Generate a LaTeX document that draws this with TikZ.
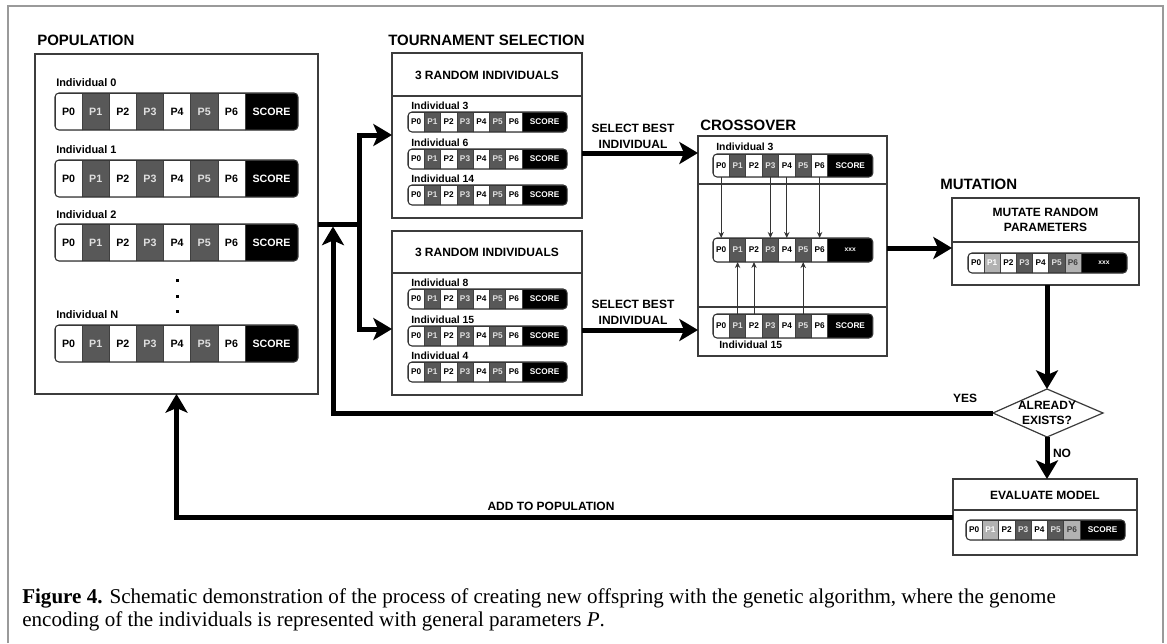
\documentclass[tikz,border=0pt]{standalone}
\usepackage{fontspec}
\setmainfont{Liberation Sans}
\newfontfamily\capfont{Liberation Serif}
\usetikzlibrary{arrows.meta,fit}

\definecolor{cdark}{HTML}{585858}
\definecolor{clight}{HTML}{B2B2B2}
\definecolor{framegray}{HTML}{9A9A9A}
\definecolor{edge}{HTML}{3C3C3C}

% fonts used inside the genome bars
\newcommand\gbig{\fontsize{8}{9}\selectfont\bfseries}
\newcommand\gsmall{\fontsize{6.2}{7}\selectfont\bfseries}

\tikzset{
  box/.style={draw=edge, line width=0.9pt, inner sep=0pt, outer sep=0pt},
  rule/.style={draw=edge, line width=0.9pt},
  ttl/.style={font=\fontsize{11.25}{13}\selectfont\bfseries, anchor=west, inner sep=0pt},
  hdr/.style={font=\fontsize{9}{11.5}\selectfont\bfseries, align=center, inner sep=0pt},
  lbl/.style={font=\fontsize{8.2}{9}\selectfont\bfseries, anchor=west, inner sep=0pt},
  slbl/.style={font=\fontsize{7.8}{9}\selectfont\bfseries, anchor=west, inner sep=0pt},
  cell/.style={inner sep=0pt, outer sep=0pt, draw=black!75, line width=0.5pt},
  gw/.style={fill=white, text=black},
  gd/.style={fill=cdark, text=black!12},
  gl/.style={fill=clight, text=white},
  gm/.style={fill=clight, text=black!75},
  barline/.style={draw=black!80, line width=0.8pt},
  flow/.style={line width=3.75pt, -{Stealth[length=14pt, width=16.5pt, inset=3.5pt]}},
  flowline/.style={line width=3.75pt},
  xarrow/.style={draw=black!80, line width=0.75pt, -{Stealth[length=4.5pt, width=4pt]}},
}

% #1 name, #2 left, #3 top, #4 cell width, #5 score width, #6 height,
% #7 cell kinds, #8 last label, #9 font
\newcommand\genome[9]{%
  \begin{scope}
    \clip[rounded corners=3pt] (#2,#3) rectangle ++({7*#4+#5},#6);
    \foreach \k [count=\i from 0] in {#7}{
      \node[cell, g\k, font=#9, minimum width={#4*0.75pt}, minimum height={#6*0.75pt}]
        (#1-\i) at ({#2+(\i+0.5)*#4},{#3+#6/2}) {P\i};
    }
    \node[cell, fill=black, text=white, font=#9, minimum width={#5*0.75pt}, minimum height={#6*0.75pt}]
      (#1-7) at ({#2+7*#4+#5/2},{#3+#6/2}) {#8};
  \end{scope}
  \draw[barline, rounded corners=3pt] (#2,#3) rectangle ++({7*#4+#5},#6);
}

\begin{document}
\begin{tikzpicture}[x=0.75pt, y=-0.75pt]
\fill[white] (0,0) rectangle (1167,643);
\useasboundingbox (0,0) rectangle (1167,643);
\draw[framegray, line width=1.2pt] (8,643) -- (8,6) -- (1163,6) -- (1163,643);

% ---------------- population ----------------
\node[ttl] (popT) at (37,40) {POPULATION};
\node[box, fit={(35,54) (318,394)}] (pop) {};
\node[lbl] (pl0) at (56,83) {Individual 0};
\genome{p0}{55}{93}{27.14}{53}{37}{w,d,w,d,w,d,w}{SCORE}{\gbig}
\node[lbl] (pl1) at (56,150) {Individual 1};
\genome{p1}{55}{160}{27.14}{53}{37}{w,d,w,d,w,d,w}{SCORE}{\gbig}
\node[lbl] (pl2) at (56,215) {Individual 2};
\genome{p2}{55}{224}{27.14}{53}{37}{w,d,w,d,w,d,w}{SCORE}{\gbig}
\fill (175.5,278.5) rectangle ++(3,3);
\fill (175.5,294.5) rectangle ++(3,3);
\fill (175.5,309.5) rectangle ++(3,3);
\node[lbl] (plN) at (56,315) {Individual N};
\genome{pN}{55}{325}{27.14}{53}{37}{w,d,w,d,w,d,w}{SCORE}{\gbig}

% ---------------- tournament selection ----------------
\node[ttl] (tsT) at (388,40) {TOURNAMENT SELECTION};
\node[box, fit={(392,53) (582,218)}] (ts1) {};
\draw[rule] (392,96) -- (582,96);
\node[hdr] (ts1h) at (487,75) {3 RANDOM INDIVIDUALS};
\node[slbl] (tl3) at (411,106) {Individual 3};
\genome{t3}{408}{112}{16.3}{45}{20}{w,d,w,d,w,d,w}{SCORE}{\gsmall}
\node[slbl] (tl6) at (411,143) {Individual 6};
\genome{t6}{408}{149}{16.3}{45}{20}{w,d,w,d,w,d,w}{SCORE}{\gsmall}
\node[slbl] (tl14) at (411,179) {Individual 14};
\genome{t14}{408}{185}{16.3}{45}{20}{w,d,w,d,w,d,w}{SCORE}{\gsmall}

\node[box, fit={(392,231) (582,395)}] (ts2) {};
\draw[rule] (392,273) -- (582,273);
\node[hdr] (ts2h) at (487,252) {3 RANDOM INDIVIDUALS};
\node[slbl] (tl8) at (411,283) {Individual 8};
\genome{t8}{408}{289}{16.3}{45}{20}{w,d,w,d,w,d,w}{SCORE}{\gsmall}
\node[slbl] (tl15) at (411,320) {Individual 15};
\genome{t15}{408}{326}{16.3}{45}{20}{w,d,w,d,w,d,w}{SCORE}{\gsmall}
\node[slbl] (tl4) at (411,356) {Individual 4};
\genome{t4}{408}{362}{16.3}{45}{20}{w,d,w,d,w,d,w}{SCORE}{\gsmall}

% ---------------- crossover ----------------
\node[ttl] (xoT) at (700,125) {CROSSOVER};
\node[box, fit={(698,136) (887,356)}] (xo) {};
\draw[rule] (698,184) -- (887,184);
\draw[rule] (698,307) -- (887,307);
\node[slbl] (xl3) at (716,147) {Individual 3};
\genome{xa}{713}{154}{16.4}{45}{23}{w,d,w,d,w,d,w}{SCORE}{\gsmall}
\genome{xc}{713}{238}{16.4}{45}{24}{w,d,w,d,w,d,w}{\fontsize{5}{6}\selectfont xxx}{\gsmall}
\genome{xb}{713}{314}{16.4}{45}{24}{w,d,w,d,w,d,w}{SCORE}{\gsmall}
\node[slbl] (xl15) at (719,345) {Individual 15};
\foreach \i in {0,3,4,6}{\draw[xarrow] (xa-\i.south) -- (xc-\i.north);}
\foreach \i in {1,2,5}{\draw[xarrow] (xb-\i.north) -- (xc-\i.south);}

% ---------------- mutation ----------------
\node[ttl] (muT) at (940,184) {MUTATION};
\node[box, fit={(952,198) (1139,285)}] (mut) {};
\draw[rule] (952,242) -- (1139,242);
\node[hdr] (muh) at (1045.5,220) {MUTATE RANDOM\\PARAMETERS};
\genome{mg}{968}{253}{16.14}{46}{20}{w,l,w,d,w,d,m}{\fontsize{5}{6}\selectfont xxx}{\gsmall}

% ---------------- decision ----------------
\coordinate (dC) at (1047,413);
\coordinate (dL) at (993,413);
\coordinate (dR) at (1103,413);
\coordinate (dT) at (1047,389);
\coordinate (dB) at (1047,437);
\draw[rule, fill=white] (dL) -- (dT) -- (dR) -- (dB) -- cycle;
\node[hdr] (exists) at (dC) {ALREADY\\EXISTS?};

% ---------------- evaluation ----------------
\node[box, fit={(953,479) (1137,555)}] (ev) {};
\draw[rule] (953,510) -- (1137,510);
\node[hdr] (evh) at (1045,495) {EVALUATE MODEL};
\genome{eg}{966}{520}{16.3}{45}{20}{w,l,w,d,w,d,m}{SCORE}{\gsmall}

% ---------------- flow arrows ----------------
\coordinate (split) at (359,224);
\coordinate (in1) at (392,135);
\coordinate (in2) at (392,329);
\draw[flowline] (pop.east |- split) -- (split);
\draw[flow] (split) |- (in1);
\draw[flow] (split) |- (in2);

\coordinate (sb1) at (640,153);
\coordinate (sb2) at (640,330);
\draw[flow] (ts1.east |- sb1) -- (xo.west |- sb1);
\draw[flow] (ts2.east |- sb2) -- (xo.west |- sb2);
\node[hdr] (sel1) at (633,136.5) {SELECT BEST\\INDIVIDUAL};
\node[hdr] (sel2) at (633,312.5) {SELECT BEST\\INDIVIDUAL};

\coordinate (xm) at (920,248);
\draw[flow] (xo.east |- xm) -- (mut.west |- xm);
\draw[flow] (mut.south -| dT) -- (dT);
\draw[flow] (dB) -- (ev.north -| dB);
\node[hdr] (no) at (1062,453) {NO};

\coordinate (yestip) at (333,226.5);
\draw[flow] (dL) -| (yestip);
\node[hdr] (yes) at (965,398) {YES};

\draw[flow] (ev.west) -| (pop.south);
\node[hdr] (addp) at (551,506) {ADD TO POPULATION};

% ---------------- caption ----------------
\node[anchor=base west, inner sep=0pt, font=\capfont\fontsize{15.8}{17}\selectfont] (cap1) at (22,603)
  {{\bfseries Figure 4.} Schematic demonstration of the process of creating new offspring with the genetic algorithm, where the genome};
\node[anchor=base west, inner sep=0pt, font=\capfont\fontsize{15.8}{17}\selectfont] (cap2) at (22,626)
  {encoding of the individuals is represented with general parameters \textit{P}.};
\end{tikzpicture}
\end{document}
